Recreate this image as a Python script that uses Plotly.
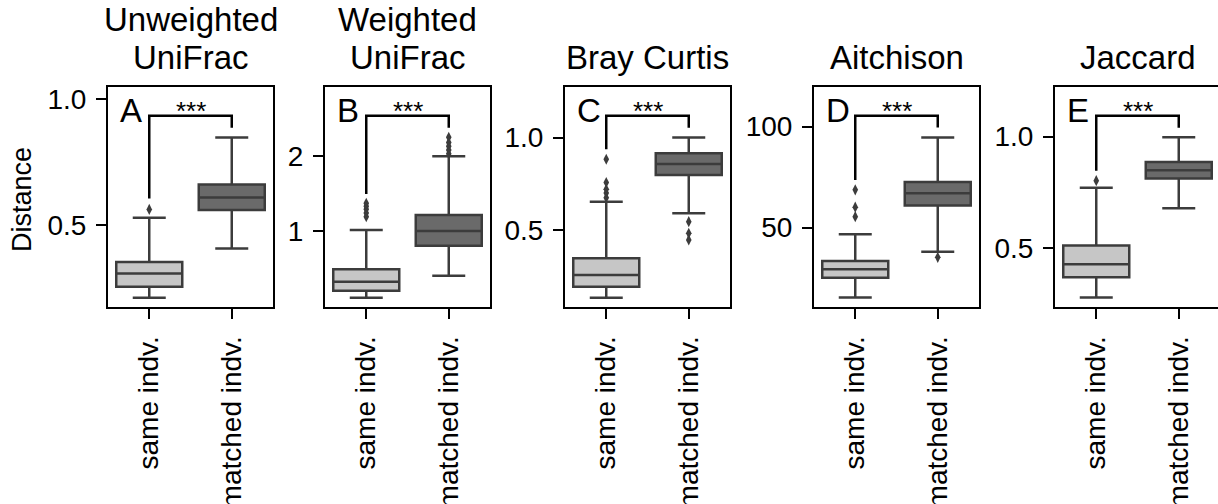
import plotly.graph_objects as go

W, H = 1218, 504

# ---------------- data ----------------
groups = ["same indv.", "matched indv."]
title_line1 = ["Unweighted", "Weighted", "", "", ""]
title_line2 = ["UniFrac", "UniFrac", "Bray Curtis", "Aitchison", "Jaccard"]
panel_letters = ["A", "B", "C", "D", "E"]

# "same indv." box statistics per metric
same_lowerfence = [0.212, 0.111, 0.133, 15.35, 0.279]
same_q1 = [0.255, 0.204, 0.193, 25.2, 0.370]
same_median = [0.308, 0.324, 0.256, 29.4, 0.428]
same_q3 = [0.354, 0.489, 0.347, 33.5, 0.512]
same_upperfence = [0.529, 1.013, 0.653, 46.7, 0.771]
same_outliers = [
    [0.562],
    [1.19, 1.24, 1.29, 1.33, 1.37],
    [0.675, 0.700, 0.720, 0.757, 0.883],
    [55.4, 60.1, 68.7],
    [0.803],
]

# "matched indv." box statistics per metric
matched_lowerfence = [0.407, 0.404, 0.590, 38.1, 0.679]
matched_q1 = [0.560, 0.804, 0.798, 60.9, 0.813]
matched_median = [0.610, 1.000, 0.857, 67.0, 0.850]
matched_q3 = [0.661, 1.213, 0.915, 72.6, 0.887]
matched_upperfence = [0.848, 1.996, 1.000, 94.6, 0.997]
matched_outliers = [
    [],
    [2.03, 2.08, 2.13, 2.18, 2.25],
    [0.545, 0.482, 0.446],
    [35.3],
    [],
]

# significance brackets: top, left-leg bottom, right-leg bottom
bracket_top = [0.934, 2.537, 1.119, 105.4, 1.094]
bracket_left = [0.606, 1.493, 0.937, 73.6, 0.847]
bracket_right = [0.886, 2.377, 1.054, 99.5, 1.040]
sig_label = "***"

# y ticks
y_tickvals = [[0.5, 1.0], [1, 2], [0.5, 1.0], [50, 100], [0.5, 1.0]]
y_ticktext = [["0.5", "1.0"], ["1", "2"], ["0.5", "1.0"], ["50", "100"], ["0.5", "1.0"]]

# ---------------- layout settings ----------------
y_ranges = [[0.175, 1.048], [-0.013, 2.92], [0.083, 1.274], [10.7, 119.6], [0.237, 1.2225]]
panel_left_px = [108, 325, 565, 814, 1055]
panel_w_px = 165
top_px, bottom_px = 87, 307

light = "#c6c6c6"
dark = "#6a6a6a"
edge = "#3c3c3c"
FONT = "Liberation Sans, Arial, Helvetica, sans-serif"


def px_x(p):
    return p / W


def px_y(p):
    return 1 - p / H


fig = go.Figure()
layout = dict(
    width=W, height=H,
    margin=dict(l=0, r=0, t=0, b=0, pad=0),
    paper_bgcolor="white", plot_bgcolor="white",
    showlegend=False,
    font=dict(family=FONT, color="black", size=28),
)
annotations = []

for i in range(5):
    xa = "x" if i == 0 else f"x{i+1}"
    ya = "y" if i == 0 else f"y{i+1}"
    xkey = "xaxis" if i == 0 else f"xaxis{i+1}"
    ykey = "yaxis" if i == 0 else f"yaxis{i+1}"

    left = panel_left_px[i]
    right = left + panel_w_px
    unit = panel_w_px / 2.0
    if right > W:
        xr = [-0.5, -0.5 + (W - left) / unit]
        right = W
        ymirror = False
    else:
        xr = [-0.5, 1.5]
        ymirror = True

    layout[xkey] = dict(
        domain=[px_x(left), px_x(right)], anchor=ya, range=xr,
        tickmode="array", tickvals=[0, 1], ticktext=groups, tickangle=-90,
        showline=True, mirror=True, linecolor="black", linewidth=2,
        ticks="outside", ticklen=10, tickwidth=2, tickcolor="black",
        ticklabelstandoff=6, automargin=False,
        showgrid=False, zeroline=False, fixedrange=True,
        tickfont=dict(size=28, family=FONT, color="black"),
    )
    layout[ykey] = dict(
        domain=[px_y(bottom_px), px_y(top_px)], anchor=xa, range=y_ranges[i],
        tickmode="array", tickvals=y_tickvals[i], ticktext=y_ticktext[i],
        showline=True, mirror=ymirror, linecolor="black", linewidth=2,
        ticks="outside", ticklen=10, tickwidth=2, tickcolor="black",
        ticklabelstandoff=4, automargin=False,
        showgrid=False, zeroline=False, fixedrange=True,
        tickfont=dict(size=28, family=FONT, color="black"),
    )

    stats = [
        (0, same_lowerfence[i], same_q1[i], same_median[i], same_q3[i], same_upperfence[i], light, same_outliers[i]),
        (1, matched_lowerfence[i], matched_q1[i], matched_median[i], matched_q3[i], matched_upperfence[i], dark, matched_outliers[i]),
    ]
    for pos, lf, q1, med, q3, uf, col, outs in stats:
        fig.add_trace(go.Box(
            x=[pos], lowerfence=[lf], q1=[q1], median=[med], q3=[q3], upperfence=[uf],
            width=0.8, whiskerwidth=0.5, fillcolor=col,
            line=dict(color=edge, width=2.5), boxpoints=False,
            xaxis=xa, yaxis=ya, hoverinfo="skip", name=groups[pos],
        ))
        if outs:
            fig.add_trace(go.Scatter(
                x=[pos] * len(outs), y=outs, mode="markers",
                marker=dict(symbol="diamond-tall", size=8, color=edge, line=dict(width=0)),
                xaxis=xa, yaxis=ya, hoverinfo="skip",
            ))

    fig.add_trace(go.Scatter(
        x=[0, 0, 1, 1],
        y=[bracket_left[i], bracket_top[i], bracket_top[i], bracket_right[i]],
        mode="lines", line=dict(color="black", width=2.5),
        xaxis=xa, yaxis=ya, hoverinfo="skip",
    ))
    annotations.append(dict(
        xref=xa, yref=ya, x=0.5, y=bracket_top[i], text=sig_label,
        showarrow=False, yanchor="middle", xanchor="center", yshift=5,
        font=dict(size=26, family=FONT, color="black"),
    ))
    # panel letter
    annotations.append(dict(
        xref="paper", yref="paper", x=px_x(left + 10), y=px_y(110),
        text=panel_letters[i], showarrow=False, xanchor="left", yanchor="middle",
        font=dict(size=33, family=FONT, color="black"),
    ))
    # titles
    cx = (panel_left_px[i] + panel_left_px[i] + panel_w_px) / 2
    if title_line1[i]:
        annotations.append(dict(
            xref="paper", yref="paper", x=px_x(cx), y=px_y(20),
            text=title_line1[i], showarrow=False, xanchor="center", yanchor="middle",
            font=dict(size=33, family=FONT, color="black"),
        ))
    annotations.append(dict(
        xref="paper", yref="paper", x=px_x(cx), y=px_y(57),
        text=title_line2[i], showarrow=False, xanchor="center", yanchor="middle",
        font=dict(size=33, family=FONT, color="black"),
    ))

annotations.append(dict(
    xref="paper", yref="paper", x=px_x(22), y=px_y(200),
    text="Distance", showarrow=False, textangle=-90,
    xanchor="center", yanchor="middle",
    font=dict(size=27, family=FONT, color="black"),
))

layout["annotations"] = annotations
fig.update_layout(**layout)
fig.write_html("out.html")
